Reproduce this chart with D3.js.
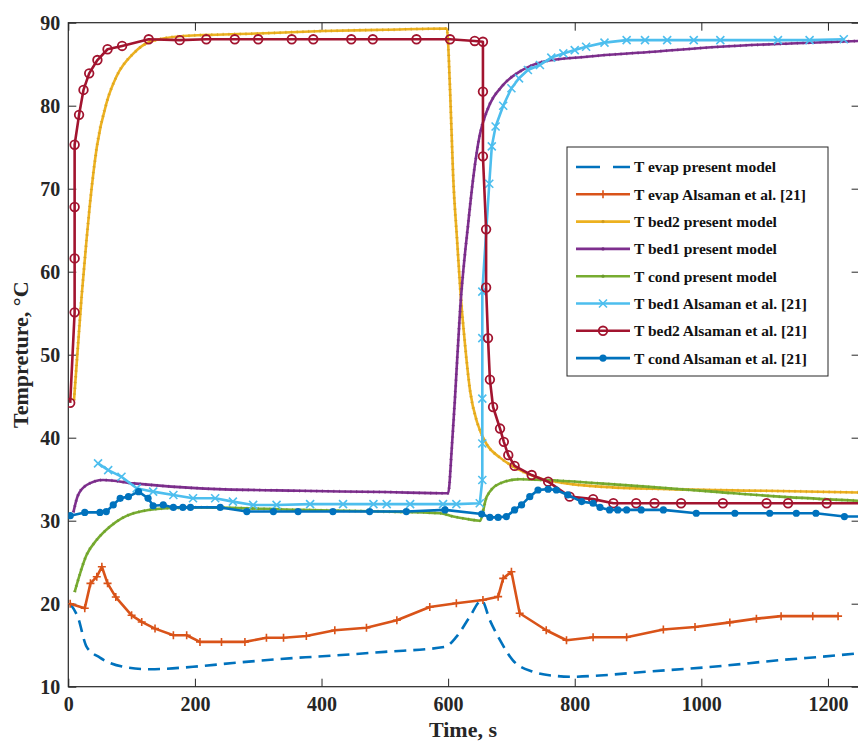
<!DOCTYPE html>
<html>
<head>
<meta charset="utf-8">
<script src="https://cdn.jsdelivr.net/npm/d3@7"></script>
<style>
  body { margin: 0; background: #fff; }
  svg { display: block; font-family: "Liberation Serif", "Times New Roman", serif; }
  .axis text { font-family: "Liberation Serif", "Times New Roman", serif; font-size: 20px; font-weight: bold; fill: #262626; }
  .axis line { stroke: #262626; }
</style>
</head>
<body>
<div id="chart"></div>
<script>
// values (time in s, temperature in °C)
const evapModelT = [3, 15, 29, 50, 87, 129, 197, 260, 355, 387, 500, 595, 613, 634, 653, 666, 682, 702, 734, 770, 797, 839, 913, 1018, 1124, 1218, 1250];
const evapModelV = [20.0, 18.4, 14.8, 13.5, 12.4, 12.1, 12.4, 12.85, 13.45, 13.6, 14.2, 14.8, 16.0, 18.4, 20.4, 18.0, 15.6, 13.2, 11.8, 11.3, 11.2, 11.35, 11.8, 12.4, 13.2, 13.8, 14.05];

const evapAlsT = [3, 26, 35, 45, 53, 62, 75, 100, 116, 137, 166, 187, 208, 242, 279, 313, 340, 376, 421, 471, 519, 571, 613, 655, 679, 687, 700, 713, 755, 787, 829, 882, 940, 990, 1045, 1087, 1126, 1176, 1216];
const evapAlsV = [20.0, 19.45, 22.45, 23.25, 24.45, 22.45, 20.8, 18.6, 17.8, 17.0, 16.2, 16.2, 15.4, 15.4, 15.4, 15.9, 15.9, 16.1, 16.8, 17.1, 18.0, 19.6, 20.05, 20.45, 20.85, 23.05, 23.85, 18.85, 16.8, 15.6, 15.95, 15.95, 16.9, 17.2, 17.75, 18.2, 18.5, 18.5, 18.5];

const bed2ModelT = [9, 21, 29, 34, 45, 61, 76, 103, 129, 182, 300, 403, 500, 598, 603, 608, 614, 620, 625, 635, 646, 661, 682, 708, 745, 787, 839, 950, 1100, 1250];
const bed2ModelV = [44.5, 57.0, 64.0, 68.0, 75.0, 80.5, 83.5, 86.3, 87.7, 88.4, 88.7, 89.0, 89.15, 89.3, 82.0, 71.4, 64.0, 57.0, 52.6, 45.5, 41.8, 39.2, 37.6, 36.3, 35.1, 34.5, 34.1, 33.8, 33.6, 33.4];

const bed1ModelT = [8, 15, 29, 55, 103, 208, 366, 500, 600, 606, 611, 619, 632, 640, 650, 661, 687, 713, 750, 819, 924, 1029, 1140, 1250];
const bed1ModelV = [31.0, 33.0, 34.3, 34.9, 34.5, 33.9, 33.6, 33.45, 33.3, 39.0, 45.0, 55.5, 66.0, 71.5, 76.5, 79.3, 82.5, 84.1, 85.3, 85.9, 86.5, 87.1, 87.5, 87.8];

const condModelT = [10, 29, 45, 66, 103, 155, 208, 366, 500, 587, 608, 630, 650, 661, 682, 713, 755, 839, 913, 1018, 1124, 1250];
const condModelV = [21.4, 25.9, 27.7, 29.3, 30.9, 31.5, 31.6, 31.3, 31.1, 30.9, 30.5, 30.2, 30.0, 32.9, 34.5, 35.0, 34.9, 34.5, 34.1, 33.5, 32.9, 32.4];

const bed1AlsT = [47, 63, 84, 108, 134, 166, 197, 232, 260, 292, 329, 382, 434, 482, 503, 540, 592, 613, 650, 654, 654, 654, 654, 654, 665, 669, 675, 687, 700, 712, 726, 745, 763, 782, 800, 818, 847, 882, 911, 946, 988, 1030, 1121, 1171, 1225];
const bed1AlsV = [36.9, 36.1, 35.3, 33.9, 33.5, 33.1, 32.7, 32.7, 32.3, 31.9, 31.9, 32.0, 32.0, 32.0, 32.0, 32.0, 32.0, 32.0, 32.1, 34.9, 39.3, 44.7, 52.0, 57.6, 70.6, 75.1, 77.5, 80.0, 82.1, 83.3, 84.3, 84.9, 85.8, 86.3, 86.7, 87.1, 87.6, 87.9, 87.9, 87.9, 87.9, 87.9, 87.9, 87.9, 88.0];

const bed2AlsT = [3, 10, 10, 10, 10, 17, 24, 33, 46, 62, 85, 127, 176, 218, 263, 300, 353, 387, 447, 481, 550, 603, 642, 655, 655, 655, 660, 660, 663, 666, 671, 682, 688, 695, 705, 732, 758, 792, 829, 861, 897, 926, 968, 1034, 1103, 1137, 1198, 1265];
const bed2AlsV = [44.2, 55.1, 61.6, 67.8, 75.3, 78.9, 81.9, 83.9, 85.5, 86.8, 87.2, 88.0, 87.9, 88.0, 88.0, 88.0, 88.0, 88.0, 88.0, 88.0, 88.0, 88.0, 87.8, 87.7, 81.7, 73.9, 65.1, 58.1, 52.0, 47.0, 43.7, 41.1, 39.5, 37.9, 36.6, 35.5, 34.7, 32.9, 32.6, 32.1, 32.1, 32.1, 32.1, 32.1, 32.1, 32.1, 32.1, 32.1];

const condAlsT = [3, 26, 50, 60, 71, 82, 95, 111, 126, 134, 150, 166, 181, 193, 240, 282, 324, 363, 418, 476, 534, 595, 653, 666, 679, 692, 705, 716, 729, 742, 758, 771, 789, 811, 829, 840, 855, 868, 882, 905, 940, 992, 1053, 1108, 1150, 1181, 1226, 1265];
const condAlsV = [30.6, 31.0, 31.0, 31.1, 31.9, 32.7, 32.9, 33.5, 32.7, 31.8, 31.9, 31.6, 31.6, 31.6, 31.6, 31.1, 31.1, 31.1, 31.1, 31.1, 31.1, 31.3, 30.8, 30.4, 30.4, 30.5, 31.3, 31.9, 32.9, 33.7, 33.8, 33.7, 33.1, 32.3, 32.1, 31.6, 31.3, 31.3, 31.3, 31.3, 31.3, 30.9, 30.9, 30.9, 30.9, 30.9, 30.5, 30.5];

const xTicks = [0, 200, 400, 600, 800, 1000, 1200];
const yTicks = [10, 20, 30, 40, 50, 60, 70, 80, 90];

const series = [
  {name: 'T evap present model', t: evapModelT, v: evapModelV, color: '#0072BD', dash: '12,7', smooth: true},
  {name: 'T evap Alsaman et al. [21]', t: evapAlsT, v: evapAlsV, color: '#D95319', marker: 'plus'},
  {name: 'T bed2 present model', t: bed2ModelT, v: bed2ModelV, color: '#EDB120', smooth: true, fine: true},
  {name: 'T bed1 present model', t: bed1ModelT, v: bed1ModelV, color: '#7E2F8E', smooth: true, fine: true},
  {name: 'T cond present model', t: condModelT, v: condModelV, color: '#77AC30', smooth: true, fine: true},
  {name: 'T bed1 Alsaman et al. [21]', t: bed1AlsT, v: bed1AlsV, color: '#4DBEEE', marker: 'cross'},
  {name: 'T bed2 Alsaman et al. [21]', t: bed2AlsT, v: bed2AlsV, color: '#A2142F', marker: 'circle'},
  {name: 'T cond Alsaman et al. [21]', t: condAlsT, v: condAlsV, color: '#0072BD', marker: 'dot'}
];

const width = 858, height = 744;
const plot = {left: 68.3, top: 22.7, right: 859.6, bottom: 686.7};

const x = d3.scaleLinear().domain([0, 1250]).range([plot.left, plot.right]);
const y = d3.scaleLinear().domain([10, 90]).range([plot.bottom, plot.top]);

const svg = d3.select('#chart').append('svg')
  .attr('width', width)
  .attr('height', height);

svg.append('defs').append('clipPath').attr('id', 'clip')
  .append('rect')
  .attr('x', plot.left).attr('y', plot.top)
  .attr('width', plot.right - plot.left).attr('height', plot.bottom - plot.top);

// axes with inward ticks, box style
const gx = svg.append('g').attr('class', 'axis')
  .attr('transform', `translate(0,${plot.bottom})`)
  .call(d3.axisBottom(x).tickValues(xTicks).tickSize(-8).tickPadding(10).tickFormat(d3.format('d')));
const gxTop = svg.append('g').attr('class', 'axis')
  .attr('transform', `translate(0,${plot.top})`)
  .call(d3.axisTop(x).tickValues(xTicks).tickSize(-8).tickFormat(''));
const gy = svg.append('g').attr('class', 'axis')
  .attr('transform', `translate(${plot.left},0)`)
  .call(d3.axisLeft(y).tickValues(yTicks).tickSize(-8).tickPadding(8).tickFormat(d3.format('d')));
const gyRight = svg.append('g').attr('class', 'axis')
  .attr('transform', `translate(${plot.right},0)`)
  .call(d3.axisRight(y).tickValues(yTicks).tickSize(-8).tickFormat(''));
[gx, gxTop, gy, gyRight].forEach(g => g.select('.domain').remove());

svg.append('rect')
  .attr('x', plot.left).attr('y', plot.top)
  .attr('width', plot.right - plot.left).attr('height', plot.bottom - plot.top)
  .attr('fill', 'none').attr('stroke', '#262626').attr('stroke-width', 1.2);

// axis titles
svg.append('text')
  .attr('x', (plot.left + plot.right) / 2 - 1)
  .attr('y', 737)
  .attr('text-anchor', 'middle')
  .style('font-size', '22px').style('font-weight', 'bold').style('fill', '#262626')
  .text('Time, s');

svg.append('text')
  .attr('transform', `translate(28,${(plot.top + plot.bottom) / 2}) rotate(-90)`)
  .attr('text-anchor', 'middle')
  .style('font-size', '22px').style('font-weight', 'bold').style('fill', '#262626')
  .text('Tempreture, °C');

const lines = svg.append('g').attr('clip-path', 'url(#clip)');

function drawMarker(g, type, color, cx, cy) {
  if (type === 'plus') {
    g.append('path').attr('d', `M${cx - 4},${cy}H${cx + 4}M${cx},${cy - 4}V${cy + 4}`)
      .attr('stroke', color).attr('stroke-width', 1.6);
  } else if (type === 'cross') {
    g.append('path').attr('d', `M${cx - 4},${cy - 4}L${cx + 4},${cy + 4}M${cx - 4},${cy + 4}L${cx + 4},${cy - 4}`)
      .attr('stroke', color).attr('stroke-width', 1.6);
  } else if (type === 'circle') {
    g.append('circle').attr('cx', cx).attr('cy', cy).attr('r', 4.3)
      .attr('fill', 'none').attr('stroke', color).attr('stroke-width', 1.8);
  } else if (type === 'dot') {
    g.append('circle').attr('cx', cx).attr('cy', cy).attr('r', 3.6).attr('fill', color);
  }
}

series.forEach(s => {
  const pts = s.t.map((t, i) => [t, s.v[i]]);
  const line = d3.line()
    .x(d => x(d[0]))
    .y(d => y(d[1]))
    .curve(s.smooth ? d3.curveMonotoneX : d3.curveLinear);

  lines.append('path')
    .attr('d', line(pts))
    .attr('fill', 'none')
    .attr('stroke', s.color)
    .attr('stroke-width', 2.6)
    .attr('stroke-linejoin', 'round')
    .attr('stroke-dasharray', s.dash || null);

  // the model curves carry tiny dense markers in the original
  if (s.fine) {
    lines.append('path')
      .attr('d', line(pts))
      .attr('fill', 'none')
      .attr('stroke', d3.color(s.color).darker(0.35))
      .attr('stroke-width', 3.2)
      .attr('stroke-dasharray', '1.2,4.5')
      .attr('opacity', 0.6);
  }

  if (s.marker) {
    const mg = lines.append('g');
    pts.forEach(d => drawMarker(mg, s.marker, s.color, x(d[0]), y(d[1])));
  }
});

// legend
const legend = svg.append('g').attr('transform', 'translate(567,147)');
legend.append('rect')
  .attr('width', 261).attr('height', 229)
  .attr('fill', '#fff').attr('stroke', '#262626').attr('stroke-width', 1);

series.forEach((s, i) => {
  const ly = 20 + i * 27.3;
  legend.append('line')
    .attr('x1', 9).attr('x2', 63).attr('y1', ly).attr('y2', ly)
    .attr('stroke', s.color).attr('stroke-width', 2.6)
    .attr('stroke-dasharray', s.dash ? '24,13' : null);
  if (s.marker) drawMarker(legend, s.marker, s.color, 36, ly);
  if (s.fine) {
    legend.append('circle').attr('cx', 36).attr('cy', ly).attr('r', 1.6)
      .attr('fill', d3.color(s.color).darker(0.35));
  }
  legend.append('text')
    .attr('x', 67).attr('y', ly)
    .attr('dy', '0.35em')
    .style('font-size', '15.5px').style('font-weight', 'bold').style('fill', '#111')
    .text(s.name);
});
</script>
</body>
</html>
